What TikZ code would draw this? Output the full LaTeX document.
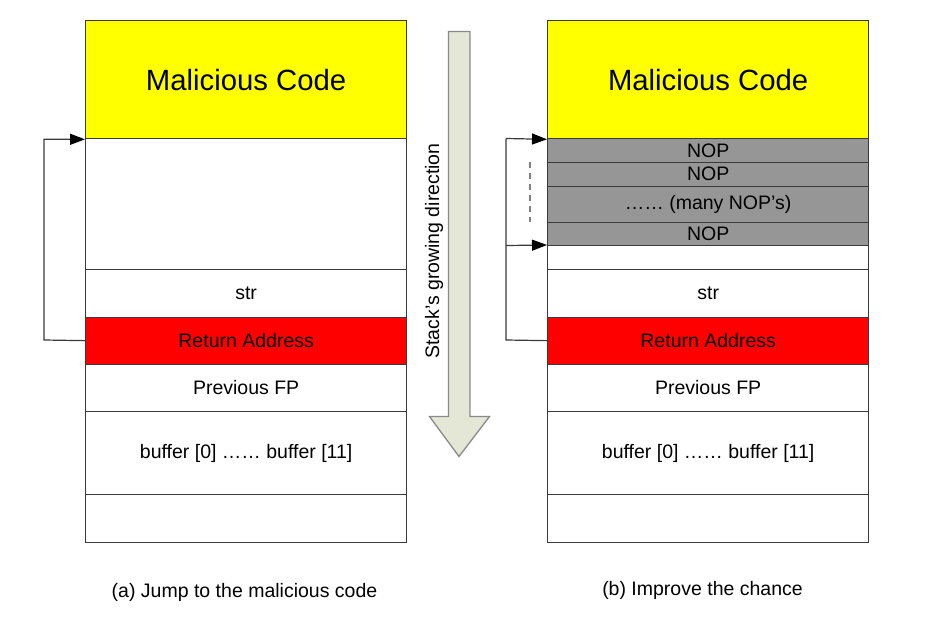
\documentclass[tikz,border=0pt]{standalone}
\usepackage{fontspec}
\setmainfont{Liberation Sans}
\usetikzlibrary{arrows.meta}
\definecolor{outl}{HTML}{3A3A3A}
\definecolor{nopgray}{HTML}{969696}
\definecolor{arrfill}{HTML}{E4E7D6}
\definecolor{arrline}{HTML}{8A8A8A}
\definecolor{yel}{RGB}{255,255,0}
\definecolor{rd}{RGB}{255,0,0}
\tikzset{
  cell/.style={draw=outl, line width=1.3pt, inner sep=0pt, minimum width=321pt, anchor=north west, font=\fontsize{19.5}{22}\selectfont},
  conn/.style={draw=outl, line width=1.2pt},
  tiparrow/.style={-{Triangle[length=15pt,width=11pt,fill=black,color=black]}},
  captext/.style={font=\fontsize{19.5}{22}\selectfont}
}
\begin{document}
\begin{tikzpicture}[x=1pt,y=-1pt]
\useasboundingbox (0,0) rectangle (939,618);
% ---------- left stack ----------
\node[cell, fill=yel, minimum height=118pt, font=\fontsize{29.3}{33}\selectfont] (lMal) at (85,20) {Malicious Code};
\node[cell, minimum height=131pt] (lEmpty) at (85,138) {};
\node[cell, minimum height=47.5pt] (lStr) at (85,269) {str};
\node[cell, fill=rd, minimum height=47pt] (lRA) at (85,316.5) {Return Address};
\node[cell, minimum height=47.5pt] (lFP) at (85,363.5) {Previous FP};
\node[cell, minimum height=83pt] (lBuf) at (85,411) {buffer [0] \dots\dots{} buffer [11]};
\node[cell, minimum height=47.5pt] (lLast) at (85,494) {};
% ---------- right stack ----------
\node[cell, fill=yel, minimum height=118pt, font=\fontsize{29.3}{33}\selectfont] (rMal) at (547,20) {Malicious Code};
\node[cell, fill=nopgray, minimum height=23.5pt] (rN1) at (547,138) {NOP};
\node[cell, fill=nopgray, minimum height=24pt] (rN2) at (547,161.5) {NOP};
\node[cell, fill=nopgray, minimum height=36pt] (rNm) at (547,185.5) {\dots\dots{} (many NOP’s)};
\node[cell, fill=nopgray, minimum height=23.5pt] (rN3) at (547,221.5) {NOP};
\node[cell, minimum height=24pt] (rEmpty) at (547,245) {};
\node[cell, minimum height=47.5pt] (rStr) at (547,269) {str};
\node[cell, fill=rd, minimum height=47pt] (rRA) at (547,316.5) {Return Address};
\node[cell, minimum height=47.5pt] (rFP) at (547,363.5) {Previous FP};
\node[cell, minimum height=83pt] (rBuf) at (547,411) {buffer [0] \dots\dots{} buffer [11]};
\node[cell, minimum height=47.5pt] (rLast) at (547,494) {};
% ---------- connectors ----------
\coordinate (lBend) at (44,340);
\draw[conn, tiparrow] (lRA.west) -- (lBend) |- (lMal.south west);
\coordinate (rBend) at (506,340);
\coordinate (rMid) at (506,245.5);
\coordinate (rTop) at (506,138.5);
\draw[conn] (rRA.west) -- (rBend) -- (rTop);
\draw[conn, tiparrow] (rTop) -- (rMal.south west);
\draw[conn, tiparrow] (rMid) -- (rEmpty.north west);
\coordinate (dA) at (530,162);
\coordinate (dB) at (530,222);
\draw[draw=gray, line width=1.2pt, dash pattern=on 6pt off 5pt] (dA) -- (dB);
% ---------- big arrow ----------
\draw[fill=arrfill, draw=arrline, line width=1.3pt, line join=miter]
  (448.5,31.5) -- (470,31.5) -- (470,416.5) -- (489.5,416.5) -- (459,456.5)
  -- (429.5,416.5) -- (448.5,416.5) -- cycle;
\node[rotate=90, font=\fontsize{19.5}{22}\selectfont] (grow) at (434,251) {Stack’s growing direction};
% ---------- captions ----------
\node[captext] (capA) at (244.5,592) {(a) Jump to the malicious code};
\node[captext] (capB) at (702.5,590) {(b) Improve the chance};
\end{tikzpicture}
\end{document}
